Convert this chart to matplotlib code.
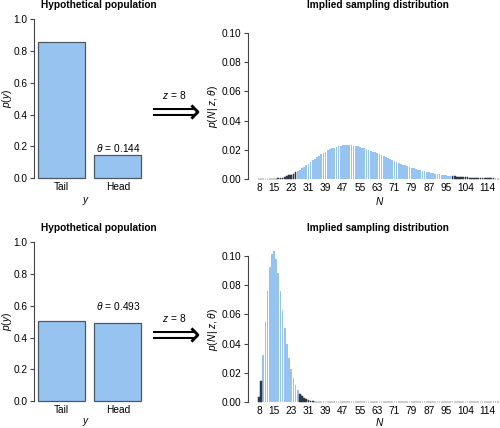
import matplotlib
matplotlib.use("Agg")
import matplotlib.pyplot as plt
import numpy as np

plt.rcParams['font.family'] = ['Liberation Sans', 'DejaVu Sans']
plt.rcParams['mathtext.fontset'] = 'custom'
plt.rcParams['mathtext.rm'] = 'Liberation Sans'
plt.rcParams['mathtext.it'] = 'Liberation Sans:italic'

# hypothetical population (Tail, Head)
pop_labels = ["Tail", "Head"]
pop_top = [0.856, 0.144]
pop_bottom = [0.507, 0.493]
theta_top = "0.144"
theta_bottom = "0.493"
z_heads = 8

# implied sampling distribution p(N | z, theta), N = 8, 9, ..., 119
first_n = 8
probs_top = [
    0.00000, 0.00000, 0.00000, 0.00001, 0.00003, 0.00007, 0.00012, 0.00021,
    0.00034, 0.00052, 0.00076, 0.00106, 0.00144, 0.00190, 0.00244, 0.00306,
    0.00377, 0.00455, 0.00541, 0.00634, 0.00732, 0.00836, 0.00943, 0.01053,
    0.01165, 0.01276, 0.01386, 0.01494, 0.01599, 0.01699, 0.01794, 0.01882,
    0.01963, 0.02037, 0.02103, 0.02160, 0.02208, 0.02248, 0.02279, 0.02301,
    0.02314, 0.02319, 0.02316, 0.02305, 0.02287, 0.02262, 0.02231, 0.02194,
    0.02152, 0.02105, 0.02054, 0.02000, 0.01942, 0.01882, 0.01820, 0.01756,
    0.01691, 0.01625, 0.01559, 0.01493, 0.01427, 0.01362, 0.01297, 0.01234,
    0.01172, 0.01111, 0.01052, 0.00995, 0.00939, 0.00885, 0.00834, 0.00784,
    0.00737, 0.00691, 0.00648, 0.00606, 0.00567, 0.00529, 0.00494, 0.00460,
    0.00428, 0.00398, 0.00370, 0.00343, 0.00318, 0.00295, 0.00273, 0.00253,
    0.00234, 0.00216, 0.00199, 0.00183, 0.00169, 0.00156, 0.00143, 0.00131,
    0.00121, 0.00111, 0.00102, 0.00093, 0.00085, 0.00078, 0.00071, 0.00065,
    0.00060, 0.00054, 0.00050, 0.00045, 0.00041, 0.00038, 0.00034, 0.00031,
]
probs_bottom = [
    0.00349, 0.01415, 0.03229, 0.05457, 0.07609, 0.09259, 0.10171, 0.10313,
    0.09804, 0.08837, 0.07616, 0.06319, 0.05072, 0.03956, 0.03009, 0.02237,
    0.01631, 0.01167, 0.00822, 0.00570, 0.00390, 0.00264, 0.00176, 0.00117,
    0.00076, 0.00050, 0.00032, 0.00020, 0.00013, 0.00008, 0.00005, 0.00003,
    0.00002, 0.00001, 0.00001, 0.0, 0.0, 0.0, 0.0, 0.0,
    0.0, 0.0, 0.0, 0.0, 0.0, 0.0, 0.0, 0.0,
    0.0, 0.0, 0.0, 0.0, 0.0, 0.0, 0.0, 0.0,
    0.0, 0.0, 0.0, 0.0, 0.0, 0.0, 0.0, 0.0,
    0.0, 0.0, 0.0, 0.0, 0.0, 0.0, 0.0, 0.0,
    0.0, 0.0, 0.0, 0.0, 0.0, 0.0, 0.0, 0.0,
    0.0, 0.0, 0.0, 0.0, 0.0, 0.0, 0.0, 0.0,
    0.0, 0.0, 0.0, 0.0, 0.0, 0.0, 0.0, 0.0,
    0.0, 0.0, 0.0, 0.0, 0.0, 0.0, 0.0, 0.0,
    0.0, 0.0, 0.0, 0.0, 0.0, 0.0, 0.0, 0.0,
]
# rejection tails (N <= low, N >= high)
tails_top = (25, 98)
tails_bottom = (9, 27)
n_ticks = [8, 15, 23, 31, 39, 47, 55, 63, 71, 79, 87, 95, 104, 114]

W, H = 500, 428
BLUE = "#96c3f0"
DARK = "#2e3945"
AXCOL = "#444444"
FS = 7.3

fig = plt.figure(figsize=(W / 100, H / 100), dpi=100)


def add_axes_px(x0, y0, x1, y1):
    return fig.add_axes([x0 / W, 1 - y1 / H, (x1 - x0) / W, (y1 - y0) / H])


def style_axes(ax, ymax, fmt):
    for s in ["top", "right", "bottom"]:
        ax.spines[s].set_visible(False)
    ax.spines["left"].set_bounds(0, ymax)
    ax.spines["left"].set_color(AXCOL)
    ax.spines["left"].set_linewidth(0.8)
    ax.set_yticks(np.linspace(0, ymax, 6))
    ax.set_yticklabels([fmt % v for v in np.linspace(0, ymax, 6)])
    ax.tick_params(axis="y", length=3, width=0.8, color=AXCOL, pad=1.5, labelsize=FS)
    ax.tick_params(axis="x", length=0, pad=1.5, labelsize=FS)
    ax.patch.set_alpha(0)


def draw_population(ax, values, theta_str, label_y):
    xpos = np.arange(len(values)) * 1.2 + 0.7
    ax.bar(xpos, values, width=1.0, color=BLUE, edgecolor="#4f5760", linewidth=0.9)
    ax.set_xlim(0.112, 2.488)
    ax.set_ylim(-0.01, 1.04)
    style_axes(ax, 1.0, "%.1f")
    ax.set_xticks(xpos)
    ax.set_xticklabels(pop_labels)
    ax.text(xpos[1], label_y, r"$\theta\,{=}\,$" + theta_str, ha="center", va="center",
            fontsize=FS)


def draw_sampling(ax, probs, tails):
    probs = np.array(probs)
    n = np.arange(first_n, first_n + len(probs))
    in_tail = (n <= tails[0]) | (n >= tails[1])
    ax.bar(n[~in_tail], probs[~in_tail], width=0.8, color=BLUE, linewidth=0)
    ax.bar(n[in_tail], probs[in_tail], width=0.8, color=DARK, edgecolor=DARK, linewidth=0.35)
    ax.set_xlim(2.9, 119.9)
    ax.set_ylim(-0.0012, 0.104)
    style_axes(ax, 0.1, "%.2f")
    ax.set_xticks(n_ticks)
    ax.set_xticklabels([str(v) for v in n_ticks])


def px_text(x, y, s, **kw):
    return fig.text(x / W, 1 - y / H, s, ha="center", va="center", **kw)


rows = [
    (0, 0, pop_top, theta_top, 0.19, probs_top, tails_top),
    (223, 221, pop_bottom, theta_bottom, 0.596, probs_bottom, tails_bottom),
]
for dy, dl, pop, th, th_y, probs, tails in rows:
    ax1 = add_axes_px(33.9, 12.6 + dy, 145.5, 179.9 + dy)
    draw_population(ax1, pop, th, th_y)
    ax2 = add_axes_px(248, 27.2 + dy, 499.6, 180.8 + dy)
    draw_sampling(ax2, probs, tails)

    px_text(99, 5 + dy, "Hypothetical population", fontsize=FS, fontweight="bold")
    px_text(378, 5 + dy, "Implied sampling distribution", fontsize=FS, fontweight="bold")
    px_text(7, 98 + dy, r"$p(y)$", fontsize=FS, rotation=90)
    px_text(86, 201 + dl, r"$y$", fontsize=FS)
    px_text(213, 106 + dy, r"$p(N\,|\,z,\,\theta)$", fontsize=FS, rotation=90)
    px_text(380, 201 + dl, r"$N$", fontsize=FS)
    px_text(174, 95 + dy, r"$z\,{=}\,%d$" % z_heads, fontsize=FS)
    px_text(174.5, 113 + dy, "\u27f9", fontsize=25, family="DejaVu Sans")

fig.savefig("out.png", dpi=100)
